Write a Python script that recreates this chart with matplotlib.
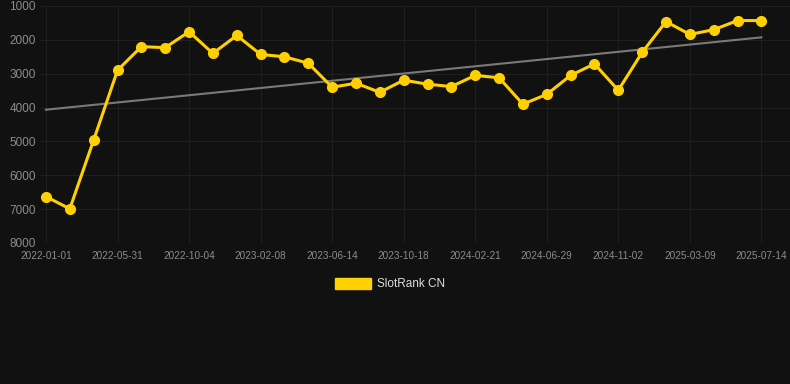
import matplotlib
matplotlib.use('Agg')
import matplotlib.pyplot as plt
from matplotlib import font_manager
from matplotlib.patches import Patch
import numpy as np

# rank values (lower number = better rank), one point roughly every 42 days
ranks = [6630, 6990, 4960, 2900, 2200, 2230, 1760, 2400, 1870, 2430,
         2500, 2690, 3400, 3280, 3550, 3190, 3310, 3380, 3050, 3120,
         3900, 3610, 3050, 2710, 3490, 2370, 1460, 1840, 1700, 1430,
         1430]
tick_labels = ['2022-01-01', '2022-05-31', '2022-10-04', '2023-02-08',
               '2023-06-14', '2023-10-18', '2024-02-21', '2024-06-29',
               '2024-11-02', '2025-03-09', '2025-07-14']
y_ticks = [1000, 2000, 3000, 4000, 5000, 6000, 7000, 8000]
series_name = 'SlotRank CN'

bg = '#111111'
gold = '#ffd000'
label_col = '#8c8c8c'

installed = {f.name for f in font_manager.fontManager.ttflist}
family = 'Liberation Sans'
for cand in ['Liberation Sans Narrow', 'DejaVu Sans Condensed']:
    if cand in installed:
        family = cand
        break
plt.rcParams['font.family'] = [family, 'DejaVu Sans']

x = np.arange(len(ranks))

fig = plt.figure(figsize=(7.9, 3.84), dpi=100, facecolor=bg)
ax = fig.add_axes([40 / 790, 1 - 243 / 384, 750 / 790, 237 / 384])
ax.set_facecolor(bg)

# trend line (least squares over the series)
k, b = np.polyfit(x, ranks, 1)
ax.plot(x[[0, -1]], k * x[[0, -1]] + b, color='#7a7a7a', lw=1.5, zorder=2)

ax.plot(x, ranks, color=gold, lw=2.2, marker='o', ms=7,
        markerfacecolor=gold, markeredgecolor=gold, zorder=3)

ax.set_ylim(8000, 1000)
ax.set_yticks(y_ticks)
ax.set_yticklabels([str(v) for v in y_ticks])
tick_pos = x[::3]
ax.set_xticks(tick_pos)
ax.set_xticklabels(tick_labels)
ax.set_xlim(-0.25, 31.2)

ax.grid(True, color='#1f1f1f', lw=0.8)
ax.set_axisbelow(True)
for s in ax.spines.values():
    s.set_visible(False)
ax.tick_params(axis='both', length=0, colors=label_col)
ax.tick_params(axis='y', labelsize=8.5, pad=3)
ax.tick_params(axis='x', labelsize=7.2, pad=6)

fig.legend(handles=[Patch(facecolor=gold, edgecolor=gold, label=series_name)],
           loc='center', bbox_to_anchor=(0.5 - 5 / 790, 1 - 284 / 384), frameon=False,
           handlelength=3.0, handleheight=1.1, handletextpad=0.5,
           fontsize=8.5, labelcolor='#dddddd')

fig.savefig('out.png', dpi=100, facecolor=bg)
